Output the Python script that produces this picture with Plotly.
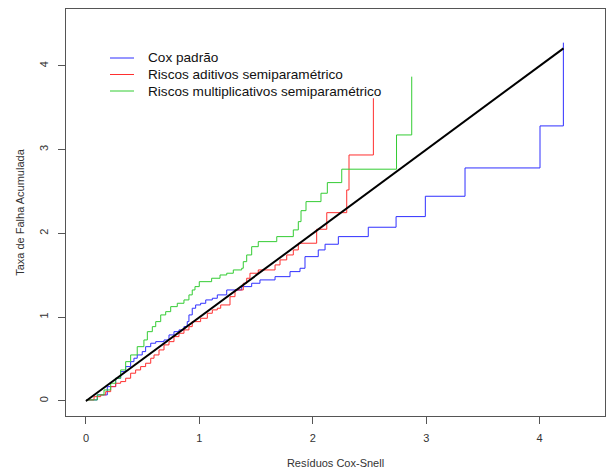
import plotly.graph_objects as go

# Cumulative hazard of Cox-Snell residuals, step functions per model
cox_x = [0.0, 0.006, 0.100, 0.188, 0.262, 0.306, 0.350, 0.394, 0.423, 0.452, 0.496, 0.526,
         0.571, 0.615, 0.688, 0.732, 0.776, 0.820, 0.864, 0.893, 0.908, 0.937, 0.967, 1.011,
         1.056, 1.114, 1.158, 1.241, 1.373, 1.461, 1.534, 1.667, 1.799, 1.887, 1.931, 2.048,
         2.108, 2.225, 2.489, 2.734, 2.992, 3.342, 4.003, 4.209]
cox_y = [0.0, 0.012, 0.072, 0.171, 0.271, 0.350, 0.410, 0.469, 0.510, 0.549, 0.589, 0.648,
         0.689, 0.708, 0.728, 0.788, 0.827, 0.848, 0.887, 0.947, 1.027, 1.107, 1.146, 1.166,
         1.206, 1.226, 1.266, 1.325, 1.365, 1.405, 1.445, 1.484, 1.544, 1.584, 1.723, 1.803,
         1.871, 1.962, 2.074, 2.201, 2.444, 2.782, 3.284, 4.278]

adit_x = [0.0, 0.006, 0.071, 0.130, 0.174, 0.218, 0.262, 0.306, 0.350, 0.394, 0.438, 0.482,
          0.526, 0.571, 0.600, 0.644, 0.688, 0.732, 0.776, 0.820, 0.864, 0.908, 0.937, 1.011,
          1.070, 1.114, 1.158, 1.188, 1.270, 1.314, 1.387, 1.417, 1.446, 1.519, 1.667, 1.711,
          1.770, 1.828, 1.872, 2.034, 2.123, 2.299, 2.319, 2.534]
adit_y = [0.0, 0.012, 0.051, 0.072, 0.111, 0.171, 0.211, 0.231, 0.271, 0.331, 0.370, 0.410,
          0.450, 0.510, 0.549, 0.609, 0.669, 0.708, 0.768, 0.808, 0.848, 0.887, 0.947, 0.987,
          1.047, 1.087, 1.107, 1.146, 1.245, 1.325, 1.405, 1.465, 1.525, 1.564, 1.624, 1.684,
          1.743, 1.803, 1.883, 2.050, 2.248, 2.519, 2.937, 3.614]

mult_x = [0.0, 0.006, 0.100, 0.159, 0.218, 0.262, 0.306, 0.350, 0.394, 0.452, 0.511, 0.541,
          0.585, 0.615, 0.659, 0.703, 0.747, 0.805, 0.864, 0.908, 0.937, 0.961, 0.999, 1.108,
          1.182, 1.241, 1.299, 1.373, 1.387, 1.417, 1.461, 1.519, 1.682, 1.828, 1.872, 1.896,
          1.940, 2.072, 2.128, 2.255, 2.738, 2.872]
mult_y = [0.0, 0.012, 0.072, 0.131, 0.211, 0.271, 0.370, 0.469, 0.549, 0.648, 0.728, 0.827,
          0.887, 0.947, 1.027, 1.066, 1.126, 1.166, 1.206, 1.266, 1.325, 1.365, 1.424, 1.465,
          1.504, 1.525, 1.564, 1.584, 1.663, 1.743, 1.842, 1.902, 1.962, 2.042, 2.141, 2.272,
          2.380, 2.480, 2.607, 2.767, 3.176, 3.872]

ref_x = [0.0, 4.21]
ref_y = [0.0, 4.21]

series_names = ["Cox padrão", "Riscos aditivos semiparamétrico",
                "Riscos multiplicativos semiparamétrico"]
series_colors = ["#2f2fff", "#ff2f2f", "#33cc33"]

x_ticks = [0, 1, 2, 3, 4]
y_ticks = [0, 1, 2, 3, 4]

W, H = 606, 473
L, R, T, B = 66, 1, 9, 57
plot_w = W - L - R
plot_h = H - T - B

fig = go.Figure()
for xs, ys, name, col in zip([cox_x, adit_x, mult_x], [cox_y, adit_y, mult_y],
                             series_names, series_colors):
    fig.add_trace(go.Scatter(x=xs, y=ys, mode="lines", name=name,
                             line=dict(color=col, width=1, shape="hv"),
                             showlegend=False))
fig.add_trace(go.Scatter(x=ref_x, y=ref_y, mode="lines",
                         line=dict(color="black", width=2), showlegend=False))

# Legend drawn in pixel positions inside the plot area
def px_x(p):
    return (p - L) / plot_w

def px_y(p):
    return 1 - (p - T) / plot_h

rows = [58, 74.5, 91]
for name, col, ry in zip(series_names, series_colors, rows):
    fig.add_shape(type="line", xref="paper", yref="paper",
                  x0=px_x(110), x1=px_x(134), y0=px_y(ry), y1=px_y(ry),
                  line=dict(color=col, width=1))
    fig.add_annotation(xref="paper", yref="paper", x=px_x(146), y=px_y(ry),
                       text=name, showarrow=False, xanchor="left", yanchor="middle",
                       font=dict(family="Liberation Sans, Arial", size=13.6, color="#111"))

axis_common = dict(showline=True, linecolor="#555", linewidth=1, mirror=True,
                   ticks="outside", ticklen=7, tickcolor="#555", showgrid=False,
                   zeroline=False, tickfont=dict(family="Liberation Sans, Arial",
                                                 size=11, color="#333"))

fig.update_layout(
    width=W, height=H,
    margin=dict(l=L, r=R, t=T, b=B),
    paper_bgcolor="white", plot_bgcolor="white",
    xaxis=dict(range=[-0.176, 4.576], tickvals=x_ticks, ticklabelstandoff=5,
               title=dict(text="Resíduos Cox-Snell", standoff=16,
                          font=dict(family="Liberation Sans, Arial", size=11, color="#333")),
               **axis_common),
    yaxis=dict(range=[-0.18, 4.68], tickvals=y_ticks, tickangle=-90, ticklabelstandoff=6,
               title=dict(text="Taxa de Falha Acumulada", standoff=10,
                          font=dict(family="Liberation Sans, Arial", size=11, color="#333")),
               **axis_common),
)

fig.write_html("out.html")
